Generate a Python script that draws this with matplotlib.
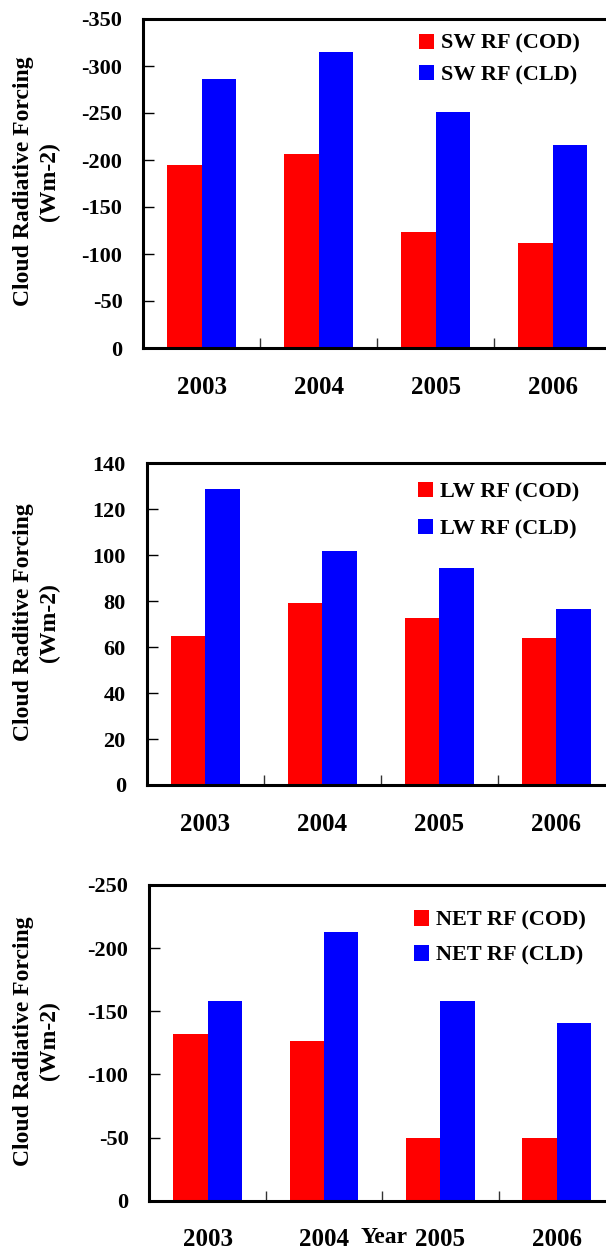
import matplotlib
matplotlib.use("Agg")
import matplotlib.pyplot as plt
import numpy as np

plt.rcParams['font.family'] = ['Liberation Serif', 'DejaVu Serif']
plt.rcParams['font.weight'] = 'bold'

# --- data ---
years = ['2003', '2004', '2005', '2006']

sw_cod = [-195, -206, -123, -112]
sw_cld = [-286, -315, -251, -216]

lw_cod = [65, 79, 72.5, 64]
lw_cld = [128.7, 101.7, 94.3, 76.8]

net_cod = [-132, -126.5, -50, -50]
net_cld = [-158, -212.7, -158, -140.7]

W, H = 606, 1250
fig = plt.figure(figsize=(W / 100, H / 100), dpi=100)


def px_axes(left, top, right, bottom):
    # pixel box -> figure fraction
    return [left / W, 1 - bottom / H, (right - left) / W, (bottom - top) / H]


panels = [
    # (box, cod, cld, labels, ylim, yticks, ylabel, legend anchor, labelspacing)
    ((143.3, 19, 611.3, 348), sw_cod, sw_cld, ['SW RF (COD)', 'SW RF (CLD)'],
     (0, -350), np.arange(0, -351, -50), 'Cloud Radiative Forcing\n(Wm-2)',
     (419, 59.5), 0.50),
    ((146.7, 463.3, 615, 785), lw_cod, lw_cld, ['LW RF (COD)', 'LW RF (CLD)'],
     (0, 140), np.arange(0, 141, 20), 'Cloud Raditive Forcing\n(Wm-2)',
     (418, 510.5), 0.76),
    ((149.3, 885, 615, 1200.7), net_cod, net_cld, ['NET RF (COD)', 'NET RF (CLD)'],
     (0, -250), np.arange(0, -251, -50), 'Cloud Radiative Forcing\n(Wm-2)',
     (414, 938), 0.66),
]

x = np.arange(len(years))
bw = 0.295

for box, cod, cld, labels, ylim, yticks, ylabel, anchor, lspace in panels:
    ax = fig.add_axes(px_axes(*box))
    ax.bar(x - bw / 2, cod, bw, color='#FF0000', label=labels[0])
    ax.bar(x + bw / 2, cld, bw, color='#0000FF', label=labels[1])
    ax.set_xlim(-0.5, 3.5)
    ax.set_ylim(*ylim)
    ax.set_yticks(yticks)
    ax.set_yticklabels([f'{v:g}' for v in yticks])
    ax.set_xticks(x)
    ax.set_xticklabels(years, fontsize=18)
    ax.set_xticks([0.5, 1.5, 2.5], minor=True)
    ax.tick_params(axis='x', which='major', length=0, pad=20)
    ax.tick_params(axis='x', which='minor', direction='in', length=7, width=1, color='#333333')
    ax.tick_params(axis='y', direction='in', length=8, width=1, pad=15, labelsize=16)
    for s in ['top', 'bottom', 'left']:
        ax.spines[s].set_linewidth(2.2)
    ax.spines['right'].set_visible(False)

    # two-line y label, placed by hand like the original
    l, t, r, b = box
    fig.text(37 / W, 1 - ((t + b) / 2 - 2) / H, ylabel, rotation=90,
             ha='center', va='center', multialignment='center',
             fontsize=17, linespacing=1.3)

    ax.legend(loc='center left', bbox_to_anchor=(anchor[0] / W, 1 - anchor[1] / H),
              bbox_transform=fig.transFigure, frameon=False, fontsize=16,
              handlelength=0.68, handleheight=0.68, handletextpad=0.32,
              labelspacing=lspace, borderpad=0, borderaxespad=0)

fig.text(384 / W, 1 - 1227 / H, 'Year', ha='center', va='top', fontsize=17)

fig.savefig('out.png', dpi=100)
